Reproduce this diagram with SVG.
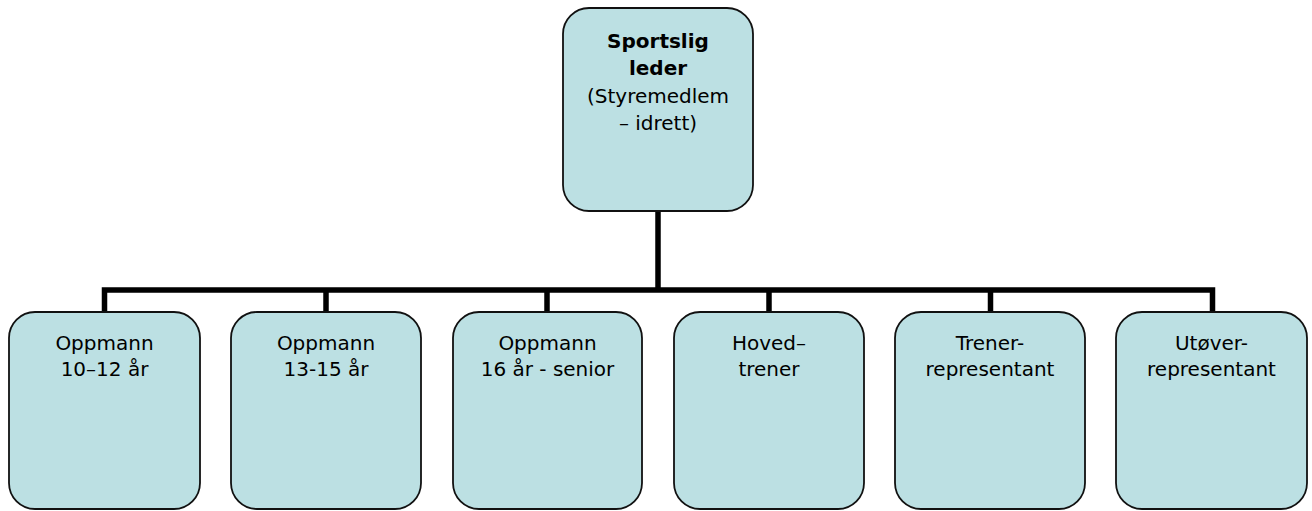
<svg xmlns="http://www.w3.org/2000/svg" width="1312" height="511" viewBox="0 0 1312 511">
<style>
.box{fill:#bce0e3;stroke:#111;stroke-width:1.8}
.t{font-family:"Comic Sans MS","DejaVu Sans",sans-serif;font-size:20px;fill:#000;text-anchor:middle}
.b{font-weight:bold}
.c{stroke:#000;stroke-width:5.5;fill:none}
</style>
<rect width="1312" height="511" fill="#fff"/>
<g id="connectors">
<line class="c" x1="658" y1="211" x2="658" y2="290"/>
<path class="c" d="M104.5,312 V290 H1212.5 V312"/>
<line class="c" x1="326" y1="290" x2="326" y2="312"/>
<line class="c" x1="547" y1="290" x2="547" y2="312"/>
<line class="c" x1="769" y1="290" x2="769" y2="312"/>
<line class="c" x1="990.5" y1="290" x2="990.5" y2="312"/>
</g>
<g id="sportslig-leder">
<rect class="box" x="563" y="8" width="190" height="203" rx="26"/>
<text class="t b" x="658" y="48">Sportslig</text>
<text class="t b" x="658" y="75">leder</text>
<text class="t" x="658" y="103">(Styremedlem</text>
<text class="t" x="658" y="130">– idrett)</text>
</g>
<g id="oppmann-10-12">
<rect class="box" x="9" y="312" width="191" height="197" rx="26"/>
<text class="t" x="104.5" y="350">Oppmann</text>
<text class="t" x="104.5" y="376">10–12 år</text>
</g>
<g id="oppmann-13-15">
<rect class="box" x="231" y="312" width="190" height="197" rx="26"/>
<text class="t" x="326" y="350">Oppmann</text>
<text class="t" x="326" y="376">13-15 år</text>
</g>
<g id="oppmann-16-senior">
<rect class="box" x="453" y="312" width="189" height="197" rx="26"/>
<text class="t" x="547.5" y="350">Oppmann</text>
<text class="t" x="547.5" y="376">16 år - senior</text>
</g>
<g id="hovedtrener">
<rect class="box" x="674" y="312" width="190" height="197" rx="26"/>
<text class="t" x="769" y="350">Hoved–</text>
<text class="t" x="769" y="376">trener</text>
</g>
<g id="trenerrepresentant">
<rect class="box" x="895" y="312" width="190" height="197" rx="26"/>
<text class="t" x="990" y="350">Trener-</text>
<text class="t" x="990" y="376">representant</text>
</g>
<g id="utoverrepresentant">
<rect class="box" x="1116" y="312" width="191" height="197" rx="26"/>
<text class="t" x="1211.5" y="350">Utøver-</text>
<text class="t" x="1211.5" y="376">representant</text>
</g>
</svg>
